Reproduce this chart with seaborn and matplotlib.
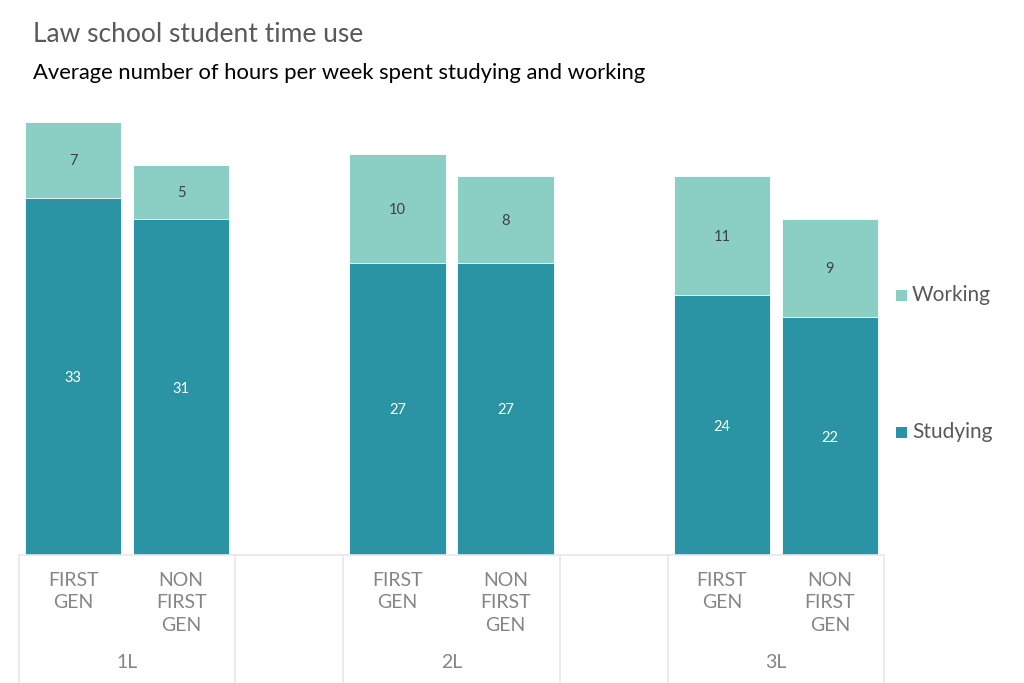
import matplotlib
matplotlib.use("Agg")
import matplotlib.pyplot as plt
import matplotlib.transforms as mtransforms
from matplotlib.patches import Rectangle
import seaborn as sns
import pandas as pd

# ---- data ----
years = ["1L", "2L", "3L"]
groups = ["FIRST GEN", "NON FIRST GEN"]
studying = [33, 31, 27, 27, 24, 22]
working = [7, 5, 10, 8, 11, 9]
group_labels = ["FIRST\nGEN", "NON\nFIRST\nGEN"]
series_names = ["Working", "Studying"]

C_WORK = "#8BCFC4"
C_STUDY = "#2A94A4"
GRID = "#E8E8E8"
TXT = "#595959"
AXTXT = "#858585"

sns.set_theme(style="white")
plt.rcParams["font.family"] = ["Lato", "DejaVu Sans"]

# slots: two bars per year, empty slot between years
keys, rows = [], []
i = 0
for yi, y in enumerate(years):
    for g in groups:
        k = f"{y} {g}"
        rows.append({"slot": k, "year": y, "group": g,
                     "Studying": studying[i], "Working": working[i],
                     "Total": studying[i] + working[i]})
        keys.append(k)
        i += 1
    if yi < len(years) - 1:
        keys.append(f"gap{yi}")
df = pd.DataFrame(rows)

fig = plt.figure(figsize=(10.24, 6.83), dpi=100)
W, H = 1024, 683
ax_left, ax_right, ax_bottom, ax_top = 19, 884, 555, 122
ax = fig.add_axes([ax_left / W, (H - ax_bottom) / H,
                   (ax_right - ax_left) / W, (ax_bottom - ax_top) / H])

sns.barplot(data=df, x="slot", y="Total", order=keys, color=C_WORK,
            width=0.892, saturation=1, ax=ax, edgecolor="white", linewidth=0.6)
sns.barplot(data=df, x="slot", y="Studying", order=keys, color=C_STUDY,
            width=0.892, saturation=1, ax=ax, edgecolor="white", linewidth=0.6)

ax.set_ylim(0, 40)
ax.set_xlim(-0.5, len(keys) - 0.5)
ax.set_xlabel("")
ax.set_ylabel("")
ax.set_xticks([])
ax.set_yticks([])
for s in ax.spines.values():
    s.set_visible(False)

pos = {k: j for j, k in enumerate(keys)}

# data labels
for _, r in df.iterrows():
    x = pos[r["slot"]]
    ax.text(x, r["Studying"] / 2 - 0.15, f"{r['Studying']}", ha="center",
            va="center", color="white", fontsize=10.5)
    ax.text(x, r["Studying"] + r["Working"] / 2 - 0.1, f"{r['Working']}",
            ha="center", va="center", color="#404040", fontsize=10.5)

# category axis
ax.axhline(0, color=GRID, lw=1.2, clip_on=False)
trans = mtransforms.blended_transform_factory(ax.transData, ax.transAxes)
bottom_ax = -(H - ax_bottom) / (ax_bottom - ax_top)
bounds = [-0.5, 1.5, 2.5, 4.5, 5.5, 7.5]
for b in bounds:
    ax.plot([b, b], [0, bottom_ax], transform=trans, color=GRID, lw=1.2,
            clip_on=False)

def ypix(p):
    return (ax_bottom - p) / (ax_bottom - ax_top)

for _, r in df.iterrows():
    x = pos[r["slot"]]
    lbl = group_labels[groups.index(r["group"])]
    ax.text(x, ypix(572), lbl, transform=trans, ha="center", va="top",
            color=AXTXT, fontsize=14, linespacing=1.38,
            multialignment="center")

for yi, y in enumerate(years):
    xs = [pos[f"{y} {g}"] for g in groups]
    ax.text(sum(xs) / 2, ypix(662), y, transform=trans, ha="center",
            va="center", color=AXTXT, fontsize=14)

# legend (manual)
for name, col, yp in [("Working", C_WORK, 295), ("Studying", C_STUDY, 432)]:
    fig.patches.append(Rectangle((896 / W, (H - yp - 5.5) / H), 11 / W, 11 / H,
                                 transform=fig.transFigure, facecolor=col,
                                 edgecolor="none"))
    fig.text(912 / W, (H - yp) / H, name, ha="left", va="center",
             color=TXT, fontsize=15)

# titles
fig.text(33 / W, (H - 35) / H, "Law school student time use", ha="left",
         va="center", color=TXT, fontsize=19)
fig.text(33 / W, (H - 73) / H,
         "Average number of hours per week spent studying and working",
         ha="left", va="center", color="black", fontsize=15.8)

fig.savefig("out.png", dpi=100)
